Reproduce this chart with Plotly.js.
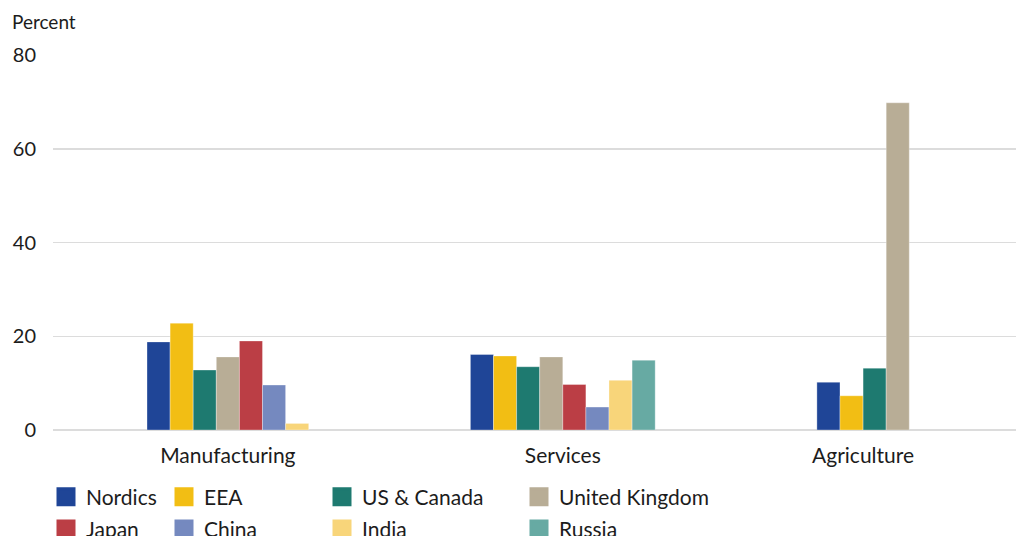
<!DOCTYPE html>
<html>
<head>
<meta charset="utf-8">
<script src="https://cdn.plot.ly/plotly-3.0.1.min.js"></script>
<style>html,body{margin:0;padding:0;background:#fff;}#chart{width:1016px;height:536px;}</style>
</head>
<body>
<div id="chart"></div>
<script>
// ---- data ----
var categories = ["Manufacturing", "Services", "Agriculture"];
var seriesNames = ["Nordics", "EEA", "US & Canada", "United Kingdom", "Japan", "China", "India", "Russia"];
var nordics  = [18.8, 16.1, 10.2];
var eea      = [22.8, 15.8, 7.3];
var usCanada = [12.8, 13.5, 13.2];
var uk       = [15.6, 15.6, 69.8];
var japan    = [19.0, 9.7, null];
var china    = [9.6, 4.9, null];
var india    = [1.4, 10.6, null];
var russia   = [null, 14.9, null];
var yTicks   = [0, 20, 40, 60, 80];

// ---- style ----
var seriesValues = [nordics, eea, usCanada, uk, japan, china, india, russia];
var colors = ["#1f4597", "#f2be14", "#1e7a70", "#b8ad96", "#bb3e45", "#7589bf", "#f8d57a", "#67aaa3"];
var GROUP_GAP = 7;
var FONT = "Lato, 'Open Sans', sans-serif";
var TXT = "#1c1c1c";

// compute slot positions: present bars are packed and centered per category
var xs = seriesValues.map(function(){ return categories.map(function(){ return null; }); });
var tickvals = [];
var slot = 0;
categories.forEach(function(c, ci) {
  var first = slot;
  seriesValues.forEach(function(vals, si) {
    if (vals[ci] !== null && vals[ci] !== undefined) { xs[si][ci] = slot; slot += 1; }
  });
  tickvals.push((first + slot - 1) / 2);
  slot += GROUP_GAP;
});

var traces = [];
seriesNames.forEach(function(name, si) {
  var x = [], y = [];
  categories.forEach(function(c, ci) {
    if (xs[si][ci] !== null) { x.push(xs[si][ci]); y.push(seriesValues[si][ci]); }
  });
  traces.push({
    type: "bar", name: name, x: x, y: y, width: 1,
    marker: { color: colors[si], line: { color: "rgba(255,255,255,0.55)", width: 0.6 } },
    showlegend: false, hoverinfo: "skip"
  });
});
// legend entries (4 columns x 2 rows)
var legendIds = ["legend", "legend2", "legend3", "legend4"];
seriesNames.forEach(function(name, si) {
  traces.push({
    type: "scatter", mode: "markers", name: name, x: [null], y: [null],
    marker: { symbol: "square", size: 16, color: colors[si], line: { color: colors[si], width: 3 } },
    legend: legendIds[si % 4], legendgroup: name, showlegend: true, hoverinfo: "skip"
  });
});

function leg(xpx) {
  return {
    x: (xpx - 53) / 963, xanchor: "left", y: -0.124, yanchor: "top",
    orientation: "v", bgcolor: "rgba(0,0,0,0)", borderwidth: 0,
    font: { family: FONT, size: 21, color: TXT }, tracegroupgap: 2, itemclick: false
  };
}

var layout = {
  width: 1016, height: 536,
  margin: { l: 53, r: 0, t: 55, b: 106, pad: 0, autoexpand: false },
  paper_bgcolor: "#ffffff", plot_bgcolor: "#ffffff",
  barmode: "overlay",
  font: { family: FONT, color: TXT, size: 18 },
  xaxis: {
    type: "linear", range: [-4.57, 37.12], tickvals: tickvals, ticktext: categories,
    showgrid: false, zeroline: false, showline: false, ticks: "", ticklabelstandoff: 11,
    tickfont: { family: FONT, size: 21, color: TXT }, fixedrange: true
  },
  yaxis: {
    range: [0, 80], tickvals: yTicks, showgrid: true, gridcolor: "#dcdcdc", gridwidth: 1.5,
    zeroline: true, zerolinecolor: "#dcdcdc", zerolinewidth: 1.5, showline: false, ticks: "",
    ticklabelstandoff: 16, tickfont: { family: FONT, size: 20, color: TXT }, fixedrange: true
  },
  legend: leg(46), legend2: leg(164), legend3: leg(322), legend4: leg(519),
  annotations: [{
    text: "Percent", xref: "paper", yref: "paper", x: (10 - 53) / 963, y: (430 - 22) / 375,
    xanchor: "left", yanchor: "middle", showarrow: false,
    font: { family: FONT, size: 19, color: TXT }
  }],
  showlegend: true
};

Plotly.newPlot("chart", traces, layout, { displayModeBar: false, staticPlot: true });
</script>
</body>
</html>
